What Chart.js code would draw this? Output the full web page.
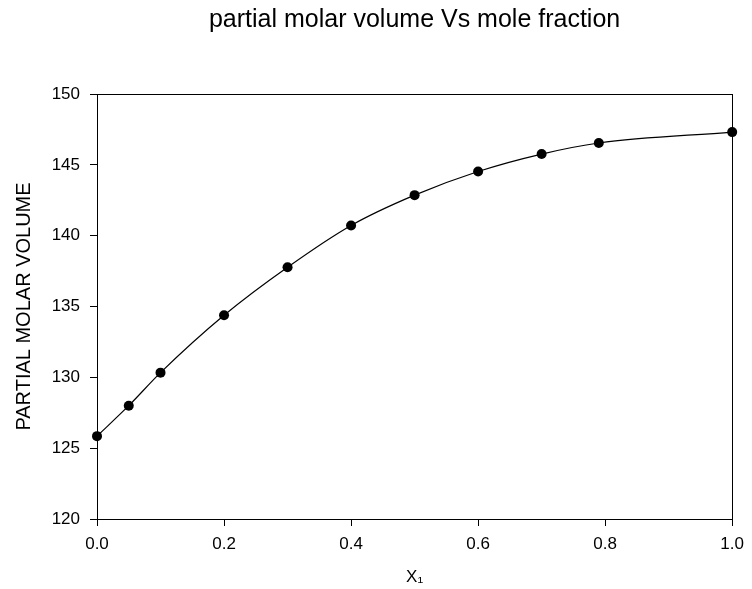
<!DOCTYPE html>
<html>
<head>
<meta charset="utf-8">
<script src="https://cdn.jsdelivr.net/npm/chart.js@4"></script>
<style>
  html, body { margin: 0; padding: 0; background: #fff; }
  canvas { display: block; }
</style>
</head>
<body>
<canvas id="chart" width="752" height="589"></canvas>
<script>
// values
let moleFraction = [0, 0.05, 0.1, 0.2, 0.3, 0.4, 0.5, 0.6, 0.7, 0.79, 1.0];
let partialVolume = [125.85, 128.0, 130.33, 134.38, 137.77, 140.72, 142.86, 144.53, 145.76, 146.54, 147.31];
let xTicks = [0, 0.2, 0.4, 0.6, 0.8, 1.0];
let yTicks = [120, 125, 130, 135, 140, 145, 150];

const fontFamily = '"Liberation Sans", Arial, sans-serif';

// box round the plot area (top and right edges too)
const frame = {
    id: 'frame',
    afterDatasetsDraw(chart) {
        const { ctx, chartArea: a } = chart;
        ctx.save();
        ctx.strokeStyle = '#000';
        ctx.lineWidth = 1;
        ctx.strokeRect(Math.round(a.left) + 0.5, Math.round(a.top) + 0.5,
            Math.round(a.right - a.left), Math.round(a.bottom - a.top));
        ctx.restore();
    }
};

const points = moleFraction.map((x, i) => ({ x: x, y: partialVolume[i] }));

new Chart(document.getElementById('chart'), {
    type: 'line',
    data: {
        datasets: [{
            data: points,
            borderColor: '#000',
            borderWidth: 1.2,
            backgroundColor: '#000',
            pointRadius: 5,
            pointBackgroundColor: '#000',
            pointBorderWidth: 0,
            cubicInterpolationMode: 'monotone',
            fill: false,
            clip: false
        }]
    },
    options: {
        responsive: false,
        animation: false,
        layout: { padding: { left: 0, right: 14, top: 0, bottom: 0 } },
        plugins: {
            legend: { display: false },
            tooltip: { enabled: false },
            title: {
                display: true,
                fullSize: false,   // centre over the plot area, not the canvas
                text: 'partial molar volume Vs mole fraction',
                color: '#000',
                font: { family: fontFamily, size: 25, weight: 'normal' },
                padding: { top: 5, bottom: 59 }
            }
        },
        scales: {
            x: {
                type: 'linear',
                min: 0,
                max: 1,
                afterFit: s => { s.height = 70; },
                afterBuildTicks: s => { s.ticks = xTicks.map(v => ({ value: v })); },
                border: { display: true, color: '#000', width: 1 },
                grid: { drawOnChartArea: false, drawTicks: true, tickLength: 7, color: '#000' },
                ticks: {
                    color: '#000',
                    padding: 8,
                    maxRotation: 0,
                    font: { family: fontFamily, size: 17 },
                    callback: v => v.toFixed(1)
                },
                title: {
                    display: true,
                    text: 'X₁',
                    color: '#000',
                    font: { family: fontFamily, size: 17 },
                    padding: { top: 0, bottom: 1 }
                }
            },
            y: {
                type: 'linear',
                min: 120,
                max: 150,
                afterFit: s => { s.width = 97; },
                afterBuildTicks: s => { s.ticks = yTicks.map(v => ({ value: v })); },
                border: { display: true, color: '#000', width: 1 },
                grid: { drawOnChartArea: false, drawTicks: true, tickLength: 7, color: '#000' },
                ticks: {
                    color: '#000',
                    padding: 10,
                    font: { family: fontFamily, size: 17 }
                },
                title: {
                    display: true,
                    text: 'PARTIAL MOLAR VOLUME',
                    color: '#000',
                    font: { family: fontFamily, size: 20 },
                    padding: { top: 12, bottom: 0 }
                }
            }
        }
    },
    plugins: [frame]
});
</script>
</body>
</html>
